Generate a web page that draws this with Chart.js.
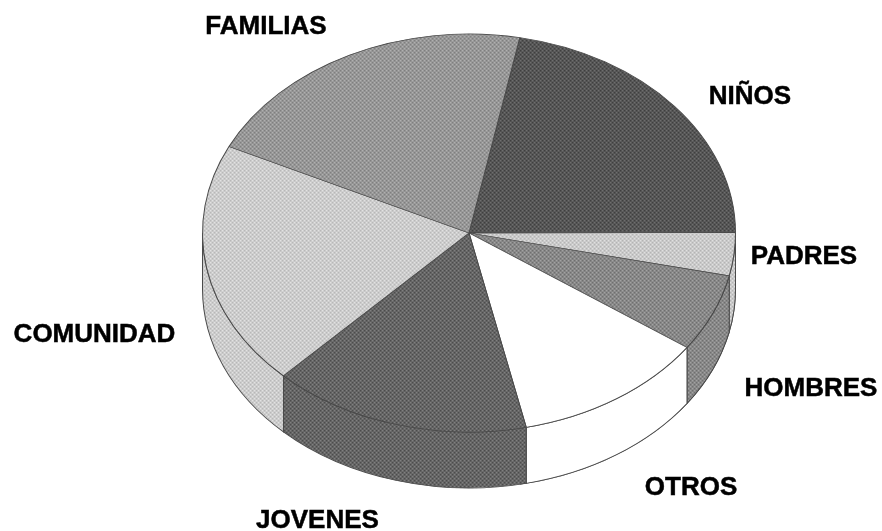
<!DOCTYPE html>
<html>
<head>
<meta charset="utf-8">
<style>
html,body{margin:0;padding:0;background:#fff}
canvas{display:block;filter:blur(0.45px)}
</style>
<script src="https://cdn.jsdelivr.net/npm/chart.js@4"></script>
</head>
<body>
<canvas id="c" width="882" height="531"></canvas>
<script>
const categories = ['NIÑOS','PADRES','HOMBRES','OTROS','JOVENES','COMUNIDAD','FAMILIAS'];
const shares = [21.9, 3.5, 6.3, 11.8, 15.7, 19.9, 20.9];
const tones = [['#3f3f3f','#6e6e6e'],['#b4b4b4','#e0e0e0'],['#6f6f6f','#a2a2a2'],['#ffffff','#ffffff'],['#4c4c4c','#808080'],['#b8b8b8','#e2e2e2'],['#7f7f7f','#b0b0b0']];
const labelX = [750,804,811,691,317.5,94.5,266];
const labelY = [97,257,389,488,521,335,27];
const startRotation = 11;
const centerX = 469, centerY = 233, radiusX = 266.5, radiusY = 199, wallDepth = 56;

function dither(a,b){
  const t=document.createElement('canvas');t.width=4;t.height=4;
  const g=t.getContext('2d');
  g.fillStyle=a;g.fillRect(0,0,4,4);
  g.fillStyle=b;
  g.fillRect(0,0,2,2);g.fillRect(2,2,2,2);
  return g.createPattern(t,'repeat');
}
const fills = tones.map(p=>dither(p[0],p[1]));

const tilted = {
  id:'tilted',
  beforeDatasetsDraw(chart){
    const ctx=chart.ctx, arcs=chart.getDatasetMeta(0).data, a0=arcs[0];
    const R=a0.outerRadius, sx=radiusX/R, sy=radiusY/R, d=wallDepth/sy;
    fills.forEach(f=>f.setTransform(new DOMMatrix().scale(1/sx,1/sy)));
    ctx.save();
    ctx.translate(centerX,centerY);
    ctx.scale(sx,sy);
    ctx.translate(-a0.x,-a0.y);
    arcs.forEach((arc,i)=>{
      const s=Math.max(arc.startAngle%(2*Math.PI),0), e=Math.min(s+(arc.endAngle-arc.startAngle),Math.PI);
      if(s>=Math.PI) return;
      ctx.beginPath();
      ctx.arc(arc.x,arc.y,R,s,e);
      ctx.arc(arc.x,arc.y+d,R,e,s,true);
      ctx.closePath();
      ctx.fillStyle=fills[i];
      ctx.fill();
      ctx.lineWidth=1;
      ctx.strokeStyle='#4a4a4a';
      ctx.stroke();
    });
  },
  afterDatasetsDraw(chart){
    const ctx=chart.ctx;
    ctx.restore();
    ctx.save();
    ctx.fillStyle='#000000';
    ctx.strokeStyle='#000000';
    ctx.lineWidth=0.5;
    ctx.font='bold 26px "Liberation Sans"';
    ctx.textAlign='center';
    ctx.textBaseline='middle';
    categories.forEach((t,i)=>{ctx.fillText(t,labelX[i],labelY[i]);ctx.strokeText(t,labelX[i],labelY[i]);});
    ctx.restore();
  }
};

new Chart(document.getElementById('c'),{
  type:'pie',
  data:{labels:categories,datasets:[{data:shares,backgroundColor:fills,borderColor:'#4a4a4a',borderWidth:1}]},
  options:{
    responsive:false,animation:false,rotation:startRotation,
    layout:{padding:0},
    plugins:{legend:{display:false},tooltip:{enabled:false},title:{display:false}}
  },
  plugins:[tilted]
});
</script>
</body>
</html>
